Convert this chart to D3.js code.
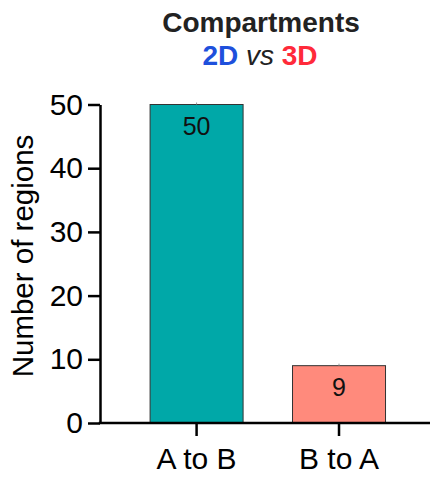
<!DOCTYPE html>
<html><head><meta charset="utf-8">
<script src="https://cdn.jsdelivr.net/npm/d3@7"></script>
<style>body{margin:0;background:#fff}svg{display:block;font-family:Arial,"Liberation Sans",sans-serif}</style>
</head><body>
<svg id="c" width="430" height="480"></svg>
<script>
const categories = ["A to B", "B to A"];
const values = [50, 9];
const colors = ["#00A8A8", "#FF8A7C"];
const yTicks = [0, 10, 20, 30, 40, 50];

const svg = d3.select("#c");
const x = d3.scaleBand().domain(categories).range([125.3, 410.3]).paddingInner(0.347).paddingOuter(0.174);
const y = d3.scaleLinear().domain([0, 50]).range([423, 104.5]);

// title
svg.append("text").attr("x", 261).attr("y", 32).attr("text-anchor", "middle")
  .attr("font-size", 28).attr("font-weight", "bold").attr("fill", "#222").text("Compartments");
const sub = svg.append("text").attr("x", 260).attr("y", 65).attr("text-anchor", "middle")
  .attr("font-size", 28).attr("font-weight", "bold");
sub.append("tspan").attr("fill", "#1E50DC").text("2D ");
sub.append("tspan").attr("fill", "#222").attr("font-weight", "normal").attr("font-style", "italic").text("vs");
sub.append("tspan").attr("fill", "#FF2A3A").text(" 3D");

// bars
svg.selectAll("rect.bar").data(values).join("rect").attr("class", "bar")
  .attr("x", (d, i) => x(categories[i])).attr("width", x.bandwidth())
  .attr("y", d => y(d)).attr("height", d => y(0) - y(d))
  .attr("fill", (d, i) => colors[i]).attr("stroke", "#333").attr("stroke-width", 1);
// zero-length error caps
svg.selectAll("line.err").data(values).join("line").attr("class", "err")
  .attr("x1", (d, i) => x(categories[i]) + x.bandwidth() / 2)
  .attr("x2", (d, i) => x(categories[i]) + x.bandwidth() / 2)
  .attr("y1", d => y(d) - 2).attr("y2", d => y(d))
  .attr("stroke", "#999").attr("stroke-width", 1);
// value labels
svg.selectAll("text.val").data(values).join("text").attr("class", "val")
  .attr("x", (d, i) => x(categories[i]) + x.bandwidth() / 2)
  .attr("y", d => y(d) + 30).attr("text-anchor", "middle")
  .attr("font-size", 25).attr("fill", "#111").text(d => d);

// y axis
const ya = svg.append("g").attr("transform", "translate(100,0)")
  .call(d3.axisLeft(y).tickValues(yTicks).tickSize(12).tickPadding(5).tickSizeOuter(0));
ya.select(".domain").attr("stroke", "#000").attr("stroke-width", 2.5);
ya.selectAll(".tick line").attr("stroke", "#000").attr("stroke-width", 2.5);
ya.selectAll(".tick text").attr("font-size", 30).attr("fill", "#000").attr("font-family", "Arial, 'Liberation Sans', sans-serif");

// x axis
const xa = svg.append("g").attr("transform", "translate(0,423)")
  .call(d3.axisBottom(x).tickSize(13).tickPadding(10).tickSizeOuter(0));
xa.select(".domain").remove();
xa.append("line").attr("x1", 98.75).attr("x2", 430).attr("stroke", "#000").attr("stroke-width", 2.5);
xa.selectAll(".tick line").attr("stroke", "#000").attr("stroke-width", 2.5);
xa.selectAll(".tick text").attr("font-size", 30).attr("fill", "#000").attr("dy", null)
  .attr("y", 46).attr("font-family", "Arial, 'Liberation Sans', sans-serif");

// y label
svg.append("text").attr("transform", "translate(33,256) rotate(-90)").attr("text-anchor", "middle")
  .attr("font-size", 29.5).attr("fill", "#000").text("Number of regions");
</script>
</body></html>
